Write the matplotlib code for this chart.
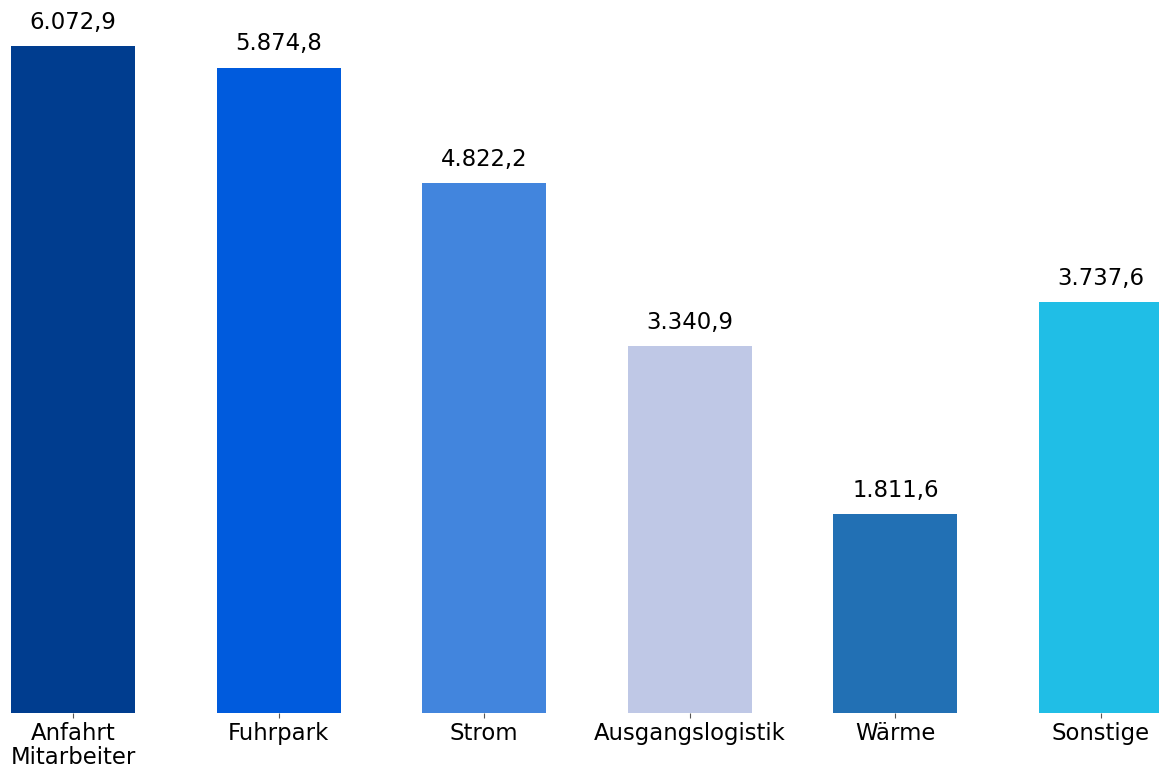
import matplotlib
matplotlib.use('Agg')
import matplotlib.pyplot as plt

# Daten
kategorien = ["Anfahrt\nMitarbeiter", "Fuhrpark", "Strom", "Ausgangslogistik", "Wärme", "Sonstige"]
werte = [6072.9, 5874.8, 4822.2, 3340.9, 1811.6, 3737.6]
farben = ["#003d8f", "#005bdd", "#4285dd", "#bfc8e6", "#2270b4", "#20bee6"]


def de_format(v):
    s = f"{v:,.1f}"
    return s.replace(",", "X").replace(".", ",").replace("X", ".")


fig = plt.figure(figsize=(11.59, 7.71), dpi=100)
ax = fig.add_axes([11 / 1159, 1 - 713 / 771, 1 - 11 / 1159, (713 - 46) / 771])

x = range(len(kategorien))
bars = ax.bar(x, werte, width=0.603, color=farben)

for b, v in zip(bars, werte):
    ax.annotate(de_format(v), (b.get_x() + b.get_width() / 2, v),
                xytext=(0, 9), textcoords="offset points",
                ha="center", va="bottom", fontsize=16.4, annotation_clip=False)

ax.set_xlim(-0.3015, 5.282)
ax.set_ylim(0, max(werte))
ax.set_xticks(list(x))
ax.set_xticklabels(kategorien, fontsize=16.4, linespacing=1.05)
ax.tick_params(axis="x", length=3.5, color="#555555", pad=3)
ax.set_yticks([])
for s in ax.spines.values():
    s.set_visible(False)

fig.savefig("out.png", dpi=100)
